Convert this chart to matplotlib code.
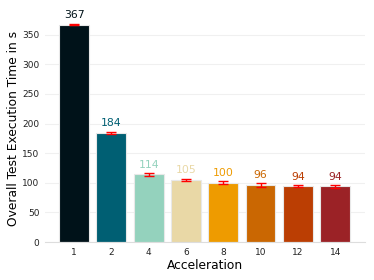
import matplotlib.pyplot as plt
import numpy as np

accel = ["1", "2", "4", "6", "8", "10", "12", "14"]
times = [367, 184, 114, 105, 100, 96, 94, 94]
errs = [1.0, 1.0, 2.3, 2.0, 2.2, 2.8, 1.5, 2.0]
colors = ["#001219", "#005f73", "#94d2bd", "#e9d8a6", "#ee9b00", "#ca6702", "#bb3e03", "#9b2226"]

fig = plt.figure(figsize=(3.74, 2.8), dpi=100)
ax = fig.add_axes([45/374, 1 - 242/280, 320/374, 228/280])

x = np.arange(len(accel))
ax.bar(x, times, width=0.8, color=colors, edgecolor="#e8e8e8", linewidth=0.8, zorder=2)
ax.errorbar(x, times, yerr=errs, fmt="none", ecolor="red", elinewidth=1, capsize=3.8, capthick=1, zorder=3)
for xi, t, c in zip(x, times, colors):
    ax.text(xi, t + 8, str(t), ha="center", va="bottom", fontsize=7.8, color=c)

ax.set_xlim(-0.78, 7.8)
ax.set_ylim(0, 385)
ax.set_xticks(x)
ax.set_xticklabels(accel)
ax.set_yticks([0, 50, 100, 150, 200, 250, 300, 350])
ax.tick_params(length=0, labelsize=6.5, colors="#222222", pad=4)
ax.grid(axis="y", color="#f0f0f0", linewidth=0.8, zorder=0)
ax.set_axisbelow(True)
for s in ["top", "right", "left"]:
    ax.spines[s].set_visible(False)
ax.spines["bottom"].set_color("#dddddd")
ax.set_xlabel("Acceleration", fontsize=8.8, labelpad=2)
ax.set_ylabel("Overall Test Execution Time in s", fontsize=8.8, labelpad=1.5)

fig.savefig("out.png", dpi=100)
